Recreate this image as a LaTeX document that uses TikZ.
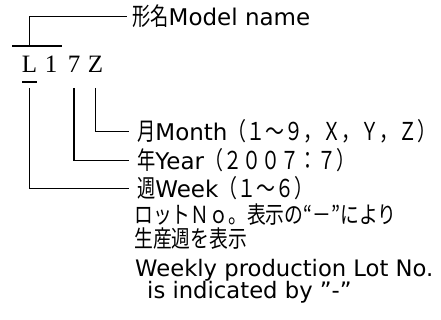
\documentclass[tikz,border=0pt]{standalone}
\usepackage{fontspec}
\setmainfont{DejaVu Sans}
\newfontfamily\jp[Scale=1.12,FakeStretch=0.74]{Noto Sans CJK JP}
\newfontfamily\jq[Scale=1.12,FakeStretch=0.77]{Noto Sans CJK JP}
\newfontfamily\jl[Scale=1.12,FakeStretch=0.8]{Noto Sans CJK JP}
\newfontfamily\ser{Liberation Serif}
\begin{document}
\begin{tikzpicture}[x=1pt,y=-1pt,
  lbl/.style={anchor=base west, inner sep=0pt, font={\fontsize{23}{25}\selectfont}},
  lble/.style={anchor=base west, inner sep=0pt, font={\fontsize{22.7}{25}\selectfont}},
  lblj/.style={anchor=base west, inner sep=0pt, font={\jl\fontsize{21}{23}\selectfont}},
  chr/.style={anchor=base, inner sep=0pt, font={\ser\fontsize{25}{27}\selectfont}},
  conn/.style={line width=1.2pt, line cap=butt},
  bar/.style={line width=1.2pt}]
\useasboundingbox (0,0) rectangle (441,320);
% code characters
\node[chr] (cL) at (29.5,73) {L};
\node[chr] (c1) at (51,73) {1};
\node[chr] (c7) at (74,73) {7};
\node[chr] (cZ) at (95.5,73) {Z};
% overline and underline
\coordinate (ol1) at (12,46);
\coordinate (ol2) at (62,46);
\draw[bar] (ol1) -- (ol2);
\coordinate (ul1) at (22,82);
\coordinate (ul2) at (37,82);
\draw[bar] (ul1) -- (ul2);
% labels
\node[lbl] (model) at (132,26) {{\jp\fontsize{22}{25}\selectfont 形名}Model name};
\node[lbl] (month) at (137,141) {{\jp\fontsize{22}{25}\selectfont 月}Month{\jq\fontsize{22}{25}\selectfont （１～９，Ｘ，Ｙ，Ｚ）}};
\node[lbl] (year) at (137,170) {{\jp\fontsize{22}{25}\selectfont 年}Year{\jq\fontsize{22}{25}\selectfont （２００７：７）}};
\node[lbl] (week) at (137,198) {{\jp\fontsize{22}{25}\selectfont 週}Week{\jq\fontsize{22}{25}\selectfont （１～６）}};
\node[lblj] (jp1) at (134,223.5) {ロットＮｏ。表示の“－”により};
\node[lblj] (jp2) at (134,247.5) {生産週を表示};
\node[lble] (en1) at (135,276) {Weekly production Lot No.};
\node[lble] (en2) at (147,298) {is indicated by ”-”};
% connectors
\draw[conn] (29.5,46 -| cL) |- ([xshift=-5pt]model.west);
\draw[conn] (cZ |- 0,88) |- ([xshift=-8pt]month.west);
\draw[conn] (c7 |- 0,88) |- ([xshift=-8pt]year.west);
\draw[conn] (cL |- 0,88) |- ([xshift=-8pt]week.west);
\end{tikzpicture}
\end{document}
